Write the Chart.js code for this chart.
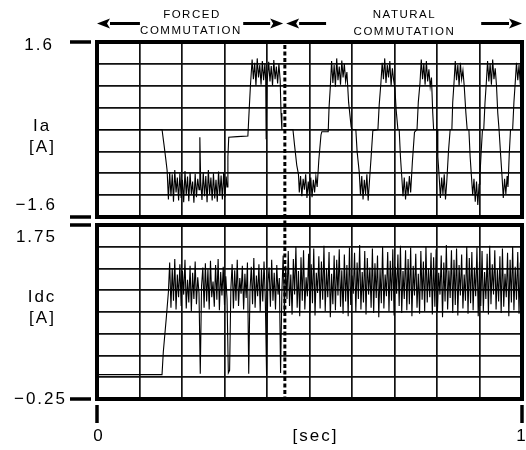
<!DOCTYPE html>
<html>
<head>
<meta charset="utf-8">
<script src="https://cdn.jsdelivr.net/npm/chart.js@4/dist/chart.umd.min.js"></script>
<style>
  html, body { margin: 0; padding: 0; background: #fff; }
  #wrap { position: relative; width: 526px; height: 450px; }
  #iaChart  { position: absolute; left: 0; top: 0; }
  #idcChart { position: absolute; left: 0; top: 221px; }
</style>
</head>
<body>
<div id="wrap">
  <canvas id="iaChart" width="526" height="221"></canvas>
  <canvas id="idcChart" width="526" height="229"></canvas>
</div>
<script>
// ── trace data (time in ms, 0..1000 = 0..1 sec) ──
const IA_MS = [
  0, 153, 158, 162, 165, 168, 171, 174, 177, 180,
  183, 186, 189, 192, 195, 198, 201, 204, 207, 210,
  213, 216, 219, 222, 225, 228, 231, 234, 237, 240,
  242, 244, 247, 250, 253, 256, 259, 262, 265, 268,
  271, 274, 277, 280, 283, 286, 289, 292, 295, 298,
  301, 304, 306, 308, 310, 330, 355, 358, 361, 365,
  368, 371, 374, 377, 380, 383, 386, 389, 392, 395,
  397, 398, 400, 404, 407, 410, 413, 416, 419, 422,
  425, 428, 431, 433, 435, 461, 465, 470, 474, 476,
  479, 482, 485, 488, 491, 494, 497, 500, 503, 506,
  509, 512, 515, 518, 522, 527, 529, 544, 546, 549,
  552, 555, 558, 561, 564, 567, 570, 573, 576, 579,
  582, 585, 588, 592, 598, 600, 609, 612, 617, 620,
  623, 626, 629, 632, 635, 638, 641, 645, 649, 661,
  664, 668, 671, 674, 677, 680, 683, 686, 689, 692,
  695, 698, 701, 704, 708, 711, 714, 717, 720, 723,
  726, 729, 732, 735, 738, 742, 747, 753, 756, 760,
  763, 766, 769, 772, 775, 778, 781, 784, 787, 790,
  792, 800, 802, 805, 808, 811, 814, 817, 820, 823,
  827, 831, 835, 837, 840, 843, 846, 849, 852, 855,
  858, 861, 864, 868, 871, 875, 878, 881, 884, 887,
  890, 893, 896, 899, 901, 904, 907, 910, 913, 916,
  919, 922, 925, 928, 931, 934, 937, 940, 943, 946,
  948, 950, 953, 956, 959, 962, 965, 967, 970, 973,
  978, 981, 984, 987, 990, 993, 996, 999, 1000,
];
const IA_AMP = [
  0, 0, -0.3, -0.55, -0.75, -1.28, -0.78, -1.22, -0.82, -1.32,
  -0.74, -1.15, -0.88, -1.30, -0.80, -1.25, -0.92, -1.33, -0.76, -1.20,
  -0.86, -1.31, -0.79, -1.18, -0.95, -1.34, -0.81, -1.24, -0.90, -1.10,
  -0.14, -0.95, -1.29, -0.78, -1.22, -0.85, -1.33, -0.74, -1.19, -0.88,
  -1.30, -0.80, -1.26, -0.92, -1.32, -0.77, -1.21, -0.84, -1.28, -0.79,
  -1.24, -0.86, -1.05, -0.5, -0.14, -0.13, -0.12, 0.35, 0.8, 1.28,
  0.92, 1.22, 0.80, 1.30, 0.95, 1.18, 0.82, 1.25, 0.90, 1.20,
  0.9, -0.18, 0.85, 1.24, 0.88, 1.16, 0.80, 1.27, 0.92, 1.15,
  0.84, 1.20, 0.90, 0.3, 0, 0, -0.3, -0.65, -0.82, -1.15,
  -0.85, -1.22, -0.90, -1.10, -0.82, -1.25, -0.95, -1.20, -0.88, -1.24,
  -0.92, -1.15, -0.86, -1.05, -0.55, -0.1, -0.04, -0.04, 0.4, 0.78,
  1.25, 0.85, 1.18, 0.78, 1.30, 0.90, 1.15, 0.82, 1.26, 0.95,
  1.20, 0.88, 1.05, 0.5, 0.05, 0, 0, -0.4, -0.78, -1.2,
  -0.85, -1.28, -0.92, -1.18, -0.82, -1.3, -0.95, -0.5, -0.02, 0,
  0.45, 0.85, 1.22, 0.92, 1.30, 0.85, 1.18, 0.95, 1.25, 0.80,
  1.12, 0.90, 0.75, 0.35, 0, 0, -0.5, -0.85, -1.22, -0.88,
  -1.28, -0.95, -1.20, -0.85, -1.15, -0.6, -0.05, 0, 0.5, 0.85,
  1.28, 0.92, 1.20, 0.82, 1.25, 0.88, 1.10, 0.78, 0.95, 0.3,
  0, 0, -0.5, -0.85, -1.25, -0.88, -1.18, -0.82, -1.28, -0.95,
  -0.4, 0, 0, 0.5, 0.85, 1.25, 0.90, 1.18, 0.80, 1.22,
  0.92, 1.08, 0.80, 0.3, 0, 0, -0.5, -0.85, -1.2, -0.9,
  -1.32, -0.95, -1.38, -1.0, -0.85, -0.4, 0, 0, 0.5, 0.85,
  1.25, 0.88, 1.20, 0.82, 1.28, 0.92, 1.12, 0.80, 0.3, 0,
  0, -0.5, -0.85, -1.25, -0.9, -1.18, -0.85, -1.05, -0.45, 0,
  0, 0.5, 0.85, 1.22, 0.9, 1.18, 0.82, 1.1, 1.0,
];

// Idc before the drive starts
const IDC_START_MS  = [0, 153, 156, 163];
const IDC_START_AMP = [0.03, 0.03, 0.29, 0.68];

// Idc after start-up, one reading every IDC_STEP_MS from IDC_FIRST_MS
const IDC_FIRST_MS = 168;
const IDC_STEP_MS  = 3;
const IDC_AMP = [
  0.98, 1.32, 0.80, 1.25, 0.88, 1.36, 0.78, 1.18, 0.92, 1.30,
  0.82, 1.22, 0.95, 1.35, 0.79, 1.12, 0.86, 1.28, 0.76, 1.20,
  0.90, 1.33, 0.84, 1.15, 0.97, 0.04, 1.05, 1.26, 0.80, 1.31,
  0.87, 1.24, 0.78, 1.34, 0.92, 1.10, 0.81, 1.29, 0.89, 1.36,
  0.77, 1.21, 0.94, 1.27, 0.83, 1.16, 0.90, 0.05, 0.08, 1.02,
  1.30, 0.79, 1.23, 0.88, 1.35, 0.82, 1.14, 0.96, 1.28, 0.78,
  1.19, 0.91, 1.32, 0.04, 1.00, 1.27, 0.84, 1.37, 0.80, 1.17,
  0.93, 1.30, 0.76, 1.24, 0.87, 1.33, 0.90, 0.03, 1.08, 1.26,
  0.81, 1.35, 0.88, 1.20, 0.78, 1.29, 0.95, 1.14, 0.05, 0.98,
  1.40, 0.75, 1.28, 0.90, 1.45, 0.82, 1.18, 0.72, 1.36, 0.95,
  1.50, 0.80, 1.22, 0.70, 1.38, 0.88, 1.46, 0.78, 1.15, 0.93,
  1.42, 0.74, 1.30, 0.85, 1.48, 0.71, 1.20, 0.97, 1.39, 0.79,
  1.33, 0.89, 1.51, 0.76, 1.25, 0.92, 1.44, 0.69, 1.19, 0.84,
  1.40, 0.77, 1.35, 0.94, 1.47, 0.81, 1.23, 0.73, 1.41, 0.87,
  1.29, 0.70, 1.49, 0.83, 1.17, 0.96, 1.43, 0.75, 1.32, 0.90,
  1.52, 0.78, 1.21, 0.86, 1.45, 0.72, 1.37, 0.95, 1.26, 0.80,
  1.48, 0.74, 1.31, 0.91, 1.40, 0.69, 1.24, 0.85, 1.50, 0.79,
  1.18, 0.93, 1.44, 0.76, 1.34, 0.88, 1.47, 0.71, 1.27, 0.96,
  1.41, 0.82, 1.51, 0.74, 1.22, 0.90, 1.46, 0.77, 1.36, 0.84,
  1.49, 0.70, 1.28, 0.94, 1.42, 0.80, 1.19, 0.73, 1.45, 0.89,
  1.33, 0.76, 1.50, 0.86, 1.25, 0.92, 1.43, 0.72, 1.38, 0.81,
  1.47, 0.75, 1.20, 0.95, 1.40, 0.69, 1.32, 0.87, 1.52, 0.78,
  1.23, 0.91, 1.46, 0.74, 1.35, 0.83, 1.48, 0.71, 1.29, 0.94,
  1.41, 0.79, 1.18, 0.88, 1.50, 0.73, 1.37, 0.85, 1.44, 0.77,
  1.26, 0.93, 1.49, 0.70, 1.33, 0.82, 1.45, 0.76, 1.21, 0.90,
  1.42, 0.72, 1.51, 0.84, 1.30, 0.95, 1.46, 0.78, 1.24, 0.87,
  1.39, 0.74, 1.48, 0.81, 1.19, 0.92, 1.43, 0.70, 1.35, 0.86,
  1.50, 0.77, 1.27, 0.89, 1.44, 0.73, 1.32, 0.84,
];

const IA_RANGE  = [-1.6, 1.6];
const IDC_RANGE = [-0.25, 1.75];
const IA_TICK_LABELS  = ['1.6', '−1.6'];
const IDC_TICK_LABELS = ['1.75', '−0.25'];
const TIME_LABELS = ['0', '1'];

const MODE_SWITCH_MS = 442;   // forced -> natural commutation
// arrow [tail, tip] in ms along the top of the Ia panel
const ARROWS = [[101, 0], [344, 438], [539, 445], [904, 1000]];

const SANS = '"Liberation Sans", Arial, Helvetica, sans-serif';

function drawText(ctx, s, x, y, size, align, spacing) {
  ctx.save();
  ctx.font = `${size}px ${SANS}`;
  ctx.fillStyle = '#000';
  ctx.textAlign = align;
  ctx.textBaseline = 'middle';
  ctx.letterSpacing = `${spacing}px`;
  ctx.fillText(s, x, y);
  ctx.restore();
}

function drawArrow(ctx, x1, x2, y) {
  const dir = Math.sign(x2 - x1), head = 13;
  ctx.save();
  ctx.strokeStyle = '#000';
  ctx.fillStyle = '#000';
  ctx.lineWidth = 3;
  ctx.beginPath();
  ctx.moveTo(x1, y);
  ctx.lineTo(x2 - dir * head, y);
  ctx.stroke();
  ctx.beginPath();
  ctx.moveTo(x2, y);
  ctx.lineTo(x2 - dir * head, y - 5);
  ctx.lineTo(x2 - dir * (head - 3), y);
  ctx.lineTo(x2 - dir * head, y + 5);
  ctx.closePath();
  ctx.fill();
  ctx.restore();
}

function hline(ctx, x1, x2, y, w) {
  ctx.save();
  ctx.strokeStyle = '#000';
  ctx.lineWidth = w;
  ctx.beginPath(); ctx.moveTo(x1, y); ctx.lineTo(x2, y); ctx.stroke();
  ctx.restore();
}

function vline(ctx, x, y1, y2, w, dash) {
  ctx.save();
  ctx.strokeStyle = '#000';
  ctx.lineWidth = w;
  if (dash) ctx.setLineDash(dash);
  ctx.beginPath(); ctx.moveTo(x, y1); ctx.lineTo(x, y2); ctx.stroke();
  ctx.restore();
}

// frame, end marks, scale labels and the commutation marker of one scope panel
const scopePanel = {
  id: 'scopePanel',
  afterDraw(chart, args, o) {
    const { ctx, chartArea: a, scales: { x, y } } = chart;
    ctx.save();
    ctx.strokeStyle = '#000';
    ctx.lineWidth = 4;
    ctx.strokeRect(a.left, a.top, a.right - a.left, a.bottom - a.top);
    ctx.restore();

    const yTop = y.getPixelForValue(y.max), yBot = y.getPixelForValue(y.min);
    hline(ctx, 70, 91, yTop, 3.5);
    hline(ctx, 70, 91, yBot, 3.5);
    drawText(ctx, o.labels[0], o.labelRight[0], yTop + o.labelShift[0], 17, 'right', 2);
    drawText(ctx, o.labels[1], o.labelRight[1], yBot + o.labelShift[1], 17, 'right', 2);
    drawText(ctx, o.name, 42, o.nameY, 17, 'center', 2);
    drawText(ctx, '[A]', 42.5, o.nameY + 21, 17, 'center', 2);

    const sx = x.getPixelForValue(MODE_SWITCH_MS);
    vline(ctx, sx, o.dashFrom(a), o.dashTo(a, chart), 3, [4, 2.5]);
  },
};

const commutationNotes = {
  id: 'commutationNotes',
  afterDraw(chart) {
    const { ctx, scales: { x } } = chart;
    const l = x.getPixelForValue(0), r = x.getPixelForValue(1000);
    const sw = x.getPixelForValue(MODE_SWITCH_MS);
    ARROWS.forEach(([from, to]) => drawArrow(ctx, x.getPixelForValue(from), x.getPixelForValue(to), 23.5));
    drawText(ctx, 'FORCED', (l + sw) / 2 + 1, 15, 11.5, 'center', 1.5);
    drawText(ctx, 'COMMUTATION', (l + sw) / 2, 31, 11.5, 'center', 1.5);
    drawText(ctx, 'NATURAL', (sw + r) / 2 + 1, 15, 11.5, 'center', 1.5);
    drawText(ctx, 'COMMUTATION', (sw + r) / 2 + 1, 31.5, 11.5, 'center', 1.5);
  },
};

const timeAxisNotes = {
  id: 'timeAxisNotes',
  afterDraw(chart) {
    const { ctx, chartArea: a, scales: { x } } = chart;
    const x0 = x.getPixelForValue(0), x1 = x.getPixelForValue(1000);
    vline(ctx, x0, a.bottom + 6, a.bottom + 24, 3.5);
    vline(ctx, x1, a.bottom + 6, a.bottom + 24, 3.5);
    drawText(ctx, TIME_LABELS[0], x0 + 1, a.bottom + 37, 17, 'center', 0);
    drawText(ctx, TIME_LABELS[1], x1 - 1, a.bottom + 37, 17, 'center', 0);
    drawText(ctx, '[sec]', (x0 + x1) / 2 + 6, a.bottom + 37, 17, 'center', 2);
  },
};

function scopeScales(range, step) {
  const grid = { color: '#111', lineWidth: 1.7, drawTicks: false };
  return {
    x: {
      type: 'linear', min: 0, max: 1000,
      ticks: { display: false, stepSize: 100 },
      grid, border: { display: false },
      afterFit: (s) => { s.height = 0; },
    },
    y: {
      type: 'linear', min: range[0], max: range[1],
      ticks: { display: false, stepSize: step },
      grid, border: { display: false },
      afterFit: (s) => { s.width = 97; },
    },
  };
}

const traceStyle = {
  borderColor: '#000',
  borderWidth: 1.1,
  pointRadius: 0,
  tension: 0,
  fill: false,
};

const iaPoints = IA_MS.map((t, i) => ({ x: t, y: IA_AMP[i] }));
const idcPoints = IDC_START_MS.map((t, i) => ({ x: t, y: IDC_START_AMP[i] }))
  .concat(IDC_AMP.map((v, i) => ({ x: IDC_FIRST_MS + i * IDC_STEP_MS, y: v })));

new Chart(document.getElementById('iaChart'), {
  type: 'line',
  data: { datasets: [{ label: 'Ia', data: iaPoints, ...traceStyle }] },
  options: {
    responsive: false,
    animation: false,
    events: [],
    layout: { padding: { top: 42, right: 4, bottom: 4, left: 0 } },
    plugins: {
      legend: { display: false },
      tooltip: { enabled: false },
      scopePanel: {
        labels: IA_TICK_LABELS,
        labelRight: [54, 57],
        labelShift: [3, -12],
        name: 'Ia',
        nameY: 126,
        dashFrom: (a) => a.top + 3,
        dashTo: (a, c) => c.height,
      },
    },
    scales: scopeScales(IA_RANGE, 0.4),
  },
  plugins: [scopePanel, commutationNotes],
});

new Chart(document.getElementById('idcChart'), {
  type: 'line',
  data: { datasets: [{ label: 'Idc', data: idcPoints, ...traceStyle }] },
  options: {
    responsive: false,
    animation: false,
    events: [],
    layout: { padding: { top: 4, right: 4, bottom: 51, left: 0 } },
    plugins: {
      legend: { display: false },
      tooltip: { enabled: false },
      scopePanel: {
        labels: IDC_TICK_LABELS,
        labelRight: [57, 67],
        labelShift: [12, 0],
        name: 'Idc',
        nameY: 76,
        dashFrom: () => 0,
        dashTo: (a) => a.bottom - 2,
      },
    },
    scales: scopeScales(IDC_RANGE, 0.25),
  },
  plugins: [scopePanel, timeAxisNotes],
});
</script>
</body>
</html>
